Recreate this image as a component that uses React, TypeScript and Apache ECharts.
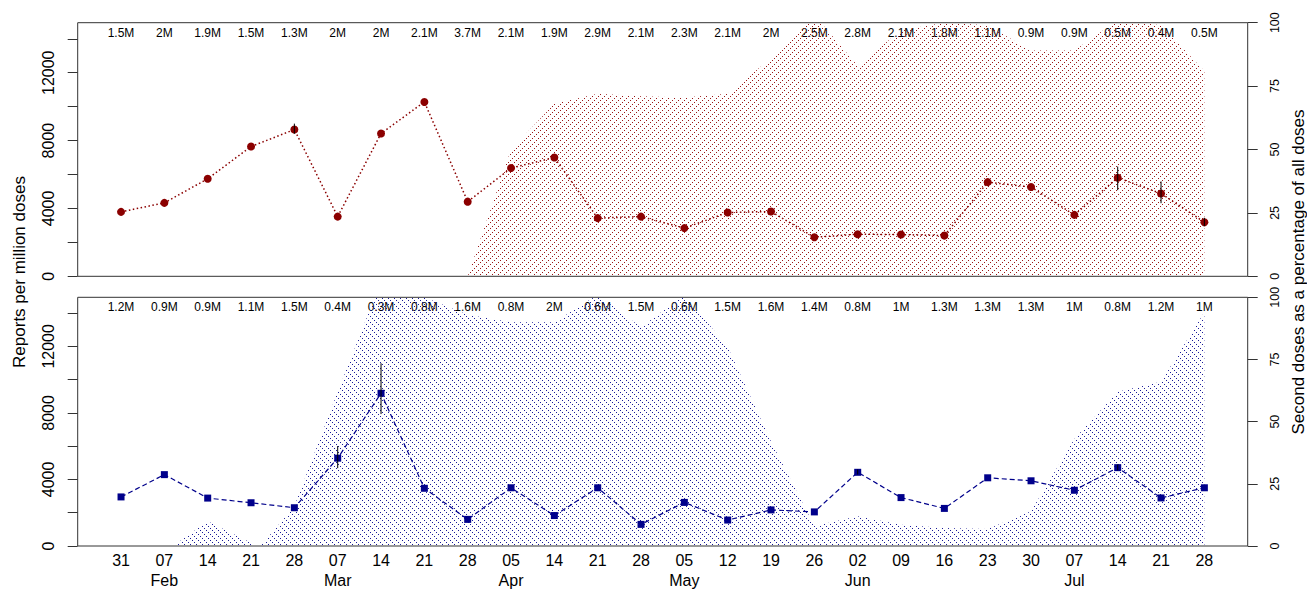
import React, { useEffect, useRef } from "react";
import * as echarts from "echarts";

// ---------- data ----------
const days = ["31", "07", "14", "21", "28", "07", "14", "21", "28", "05", "14", "21", "28", "05", "12", "19", "26", "02", "09", "16", "23", "30", "07", "14", "21", "28"];
const months = ["", "Feb", "", "", "", "Mar", "", "", "", "Apr", "", "", "", "May", "", "", "", "Jun", "", "", "", "", "Jul", "", "", ""];

const topDoses = ["1.5M", "2M", "1.9M", "1.5M", "1.3M", "2M", "2M", "2.1M", "3.7M", "2.1M", "1.9M", "2.9M", "2.1M", "2.3M", "2.1M", "2M", "2.5M", "2.8M", "2.1M", "1.8M", "1.1M", "0.9M", "0.9M", "0.5M", "0.4M", "0.5M"];
const bottomDoses = ["1.2M", "0.9M", "0.9M", "1.1M", "1.5M", "0.4M", "0.3M", "0.8M", "1.6M", "0.8M", "2M", "0.6M", "1.5M", "0.6M", "1.5M", "1.6M", "1.4M", "0.8M", "1M", "1.3M", "1.3M", "1.3M", "1M", "0.8M", "1.2M", "1M"];

// reports per million doses (left axis)
const topRates = [3800, 4330, 5750, 7650, 8650, 3520, 8420, 10280, 4400, 6380, 7000, 3430, 3520, 2840, 3760, 3820, 2300, 2480, 2460, 2400, 5550, 5260, 3620, 5810, 4880, 3190];
const topErrLo = [null, null, null, null, 8400, null, null, null, null, null, null, null, null, null, null, null, null, null, null, null, null, null, null, 5080, 4310, 2950];
const topErrHi = [null, null, null, null, 9000, null, null, null, null, null, null, null, null, null, null, null, null, null, null, null, null, null, null, 6470, 5590, 3450];

const bottomRates = [2950, 4290, 2880, 2600, 2300, 5280, 9180, 3470, 1600, 3500, 1830, 3500, 1300, 2620, 1560, 2170, 2050, 4430, 2910, 2260, 4100, 3920, 3350, 4710, 2890, 3500];
const bottomErrLo = [null, null, null, null, null, 4680, 7930, null, null, null, null, null, null, null, null, null, null, 4300, null, null, null, null, null, 4550, null, null];
const bottomErrHi = [null, null, null, null, null, 6010, 10990, null, null, null, null, null, null, null, null, null, null, 4600, null, null, null, null, null, 4900, null, null];

// second doses as a percentage of all doses (right axis)
const topShareX = [8, 9, 10, 11, 12, 13, 14, 15, 16, 17, 18, 19, 20, 21, 22, 23, 24, 25];
const topShare = [0, 50, 68, 72, 71, 70.5, 72, 86, 103, 83, 97, 100, 99, 89, 89, 101, 99, 81];

const bottomShareX = [1.2, 2, 3.15, 3.22, 4, 5, 5.9, 6, 7, 8, 9, 10, 11, 12, 13, 14, 15, 16, 17, 18, 19, 20, 21, 22, 23, 24, 25];
const bottomShare = [0, 10, 0, 0, 16, 62, 102, 104, 100, 93, 90, 90, 101, 88, 101, 80, 42, 8, 12, 8.5, 7.2, 6.8, 14, 43, 62, 66, 94];

const leftTicks = [0, 2000, 4000, 6000, 8000, 10000, 12000, 14000];
const leftLabels = [0, 4000, 8000, 12000];
const rightTicks = [0, 25, 50, 75, 100];

const FONT = '"Liberation Sans", Arial, Helvetica, sans-serif';
const RED = "#8B0000";
const BLUE = "#00008B";

function makeHatch(color: string, dir: number) {
  const c = document.createElement("canvas");
  c.width = 6;
  c.height = 6;
  const ctx = c.getContext("2d")!;
  ctx.fillStyle = color;
  for (let k = 0; k < 3; k++) {
    const x = 2 * k;
    const y = dir > 0 ? 4 - 2 * k : 2 * k;
    ctx.fillRect(x, y, 1, 1);
  }
  return c;
}

function errData(lo: (number | null)[], hi: (number | null)[]) {
  const out: number[][] = [];
  lo.forEach((l, i) => {
    const h = hi[i];
    if (l != null && h != null) out.push([i, l, h]);
  });
  return out;
}

const errRender = (params: any, api: any) => {
  const x = api.value(0);
  const p1 = api.coord([x, api.value(1)]);
  const p2 = api.coord([x, api.value(2)]);
  return {
    type: "line",
    shape: { x1: p1[0], y1: p1[1], x2: p2[0], y2: p2[1] },
    style: { stroke: "#000", lineWidth: 1 },
  };
};

export default function App() {
  const ref = useRef<HTMLDivElement>(null);

  useEffect(() => {
    document.body.style.margin = "0";
    const chart = echarts.init(ref.current!, undefined, { renderer: "svg" });

    const GRID_L = 77.7;
    const GRID_R = 1307 - 1247.7;
    const grids = [
      { left: GRID_L, right: GRID_R, top: 22.7, height: 253.6 },
      { left: GRID_L, right: GRID_R, top: 297.3, height: 253.7 },
    ].map((g) => ({ ...g, show: true, borderColor: "#333", borderWidth: 1, backgroundColor: "transparent", containLabel: false }));

    const baseX = (gridIndex: number) => ({
      type: "value",
      gridIndex,
      min: -1,
      max: 26,
      interval: 1,
      axisLine: { show: false, onZero: false },
      axisTick: { show: false },
      splitLine: { show: false },
    });

    const doseAxis = (gridIndex: number, labels: string[]) => ({
      ...baseX(gridIndex),
      position: "top",
      axisLabel: {
        show: true,
        inside: true,
        margin: 4,
        fontSize: 12,
        fontFamily: FONT,
        color: "#000",
        formatter: (v: number) => labels[Math.round(v)] ?? "",
      },
    });

    const leftAxis = (gridIndex: number) => ({
      type: "value",
      gridIndex,
      position: "left",
      min: 0,
      max: 14950,
      axisLine: { show: false, onZero: false },
      splitLine: { show: false },
      axisTick: { show: true, length: 10, customValues: leftTicks, lineStyle: { color: "#333" } },
      axisLabel: {
        customValues: leftLabels,
        rotate: 90,
        margin: 21,
        fontSize: 16,
        fontFamily: FONT,
        color: "#000",
        formatter: (v: number) => String(v),
      },
    });

    const rightAxis = (gridIndex: number) => ({
      type: "value",
      gridIndex,
      position: "right",
      min: 0,
      max: 100,
      axisLine: { show: false, onZero: false },
      splitLine: { show: false },
      axisTick: { show: true, length: 10, customValues: rightTicks, lineStyle: { color: "#333" } },
      axisLabel: {
        customValues: rightTicks,
        rotate: 90,
        margin: 21,
        fontSize: 12.5,
        fontFamily: FONT,
        color: "#000",
        formatter: (v: number) => String(v),
      },
    });

    const redHatch = makeHatch("#9a1515", 1);
    const blueHatch = makeHatch("#1a1a9a", -1);

    chart.setOption({
      animation: false,
      grid: grids,
      xAxis: [
        { ...baseX(0), position: "bottom", axisLabel: { show: false } },
        doseAxis(0, topDoses),
        {
          ...baseX(1),
          position: "bottom",
          axisLabel: {
            show: true,
            margin: 4,
            fontSize: 16,
            lineHeight: 20,
            fontFamily: FONT,
            color: "#000",
            formatter: (v: number) => {
              const i = Math.round(v);
              if (i < 0 || i >= days.length) return "";
              return months[i] ? days[i] + "\n" + months[i] : days[i];
            },
          },
        },
        doseAxis(1, bottomDoses),
      ],
      yAxis: [leftAxis(0), rightAxis(0), leftAxis(1), rightAxis(1)],
      graphic: [
        {
          type: "text",
          x: 19,
          y: 272,
          rotation: Math.PI / 2,
          style: { text: "Reports per million doses", fontSize: 17, fontFamily: FONT, fill: "#000", align: "center", verticalAlign: "middle" },
        },
        {
          type: "text",
          x: 1298,
          y: 272,
          rotation: Math.PI / 2,
          style: { text: "Second doses as a percentage of all doses", fontSize: 17, fontFamily: FONT, fill: "#000", align: "center", verticalAlign: "middle" },
        },
      ],
      series: [
        {
          type: "line",
          xAxisIndex: 0,
          yAxisIndex: 1,
          data: topShareX.map((x, i) => [x, topShare[i]]),
          symbol: "none",
          lineStyle: { width: 0, opacity: 0 },
          areaStyle: { color: { image: redHatch, repeat: "repeat" }, opacity: 1 },
          silent: true,
          clip: true,
          z: 1,
        },
        {
          type: "line",
          xAxisIndex: 0,
          yAxisIndex: 0,
          data: topRates.map((v, i) => [i, v]),
          symbol: "circle",
          symbolSize: 8,
          itemStyle: { color: RED },
          lineStyle: { color: RED, width: 1.5, type: [1.5, 2.5] },
          z: 3,
        },
        {
          type: "custom",
          xAxisIndex: 0,
          yAxisIndex: 0,
          data: errData(topErrLo, topErrHi),
          renderItem: errRender,
          z: 4,
        },
        {
          type: "line",
          xAxisIndex: 2,
          yAxisIndex: 3,
          data: bottomShareX.map((x, i) => [x, bottomShare[i]]),
          symbol: "none",
          lineStyle: { width: 0, opacity: 0 },
          areaStyle: { color: { image: blueHatch, repeat: "repeat" }, opacity: 1 },
          silent: true,
          clip: true,
          z: 1,
        },
        {
          type: "line",
          xAxisIndex: 2,
          yAxisIndex: 2,
          data: bottomRates.map((v, i) => [i, v]),
          symbol: "rect",
          symbolSize: 7,
          itemStyle: { color: BLUE },
          lineStyle: { color: BLUE, width: 1.2, type: [5, 3] },
          z: 3,
        },
        {
          type: "custom",
          xAxisIndex: 2,
          yAxisIndex: 2,
          data: errData(bottomErrLo, bottomErrHi),
          renderItem: errRender,
          z: 4,
        },
      ],
    });

    return () => chart.dispose();
  }, []);

  return <div ref={ref} style={{ width: 1307, height: 590 }} />;
}
